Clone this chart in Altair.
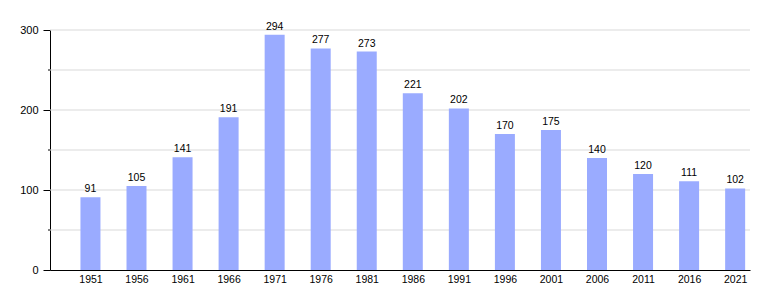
import altair as alt
import pandas as pd

years = [1951, 1956, 1961, 1966, 1971, 1976, 1981, 1986, 1991, 1996, 2001, 2006, 2011, 2016, 2021]
values = [91, 105, 141, 191, 294, 277, 273, 221, 202, 170, 175, 140, 120, 111, 102]
grid_values = [50, 100, 150, 200, 250, 300]
minor_ticks = [50, 150, 250]

df = pd.DataFrame({"year": years, "value": values})
minor = pd.DataFrame({"value": minor_ticks})
gridf = pd.DataFrame({"value": grid_values})

FONT = "Liberation Sans"

yscale = alt.Scale(domain=[0, 300], nice=False)
yaxis = alt.Axis(values=[0, 100, 200, 300], title=None, tickSize=7,
                 tickColor="black", domainColor="black", labelColor="black",
                 labelFont=FONT, labelFontSize=11, labelPadding=5, grid=False)

x = alt.X("year:Q",
          scale=alt.Scale(domain=[1947.15, 2022.07], nice=False, zero=False),
          axis=alt.Axis(values=years, format="d", title=None, ticks=False,
                        grid=False, domainColor="black", labelColor="black",
                        labelFont=FONT, labelFontSize=10.5, labelPadding=4,
                        labelFlush=False))

grid = alt.Chart(gridf).mark_rule(color="#d9d9d9", strokeWidth=1).encode(
    y=alt.Y("value:Q", scale=yscale, axis=yaxis)
)

bars = alt.Chart(df).mark_bar(size=20, color="#9aabff").encode(
    x=x, y=alt.Y("value:Q", scale=yscale, axis=yaxis)
)

labels = alt.Chart(df).mark_text(
    baseline="bottom", dy=-3, font=FONT, fontSize=10.5, color="black"
).encode(x="year:Q", y="value:Q", text="value:Q")

minor_rules = alt.Chart(minor).mark_rule(color="black").encode(
    y="value:Q", x=alt.value(-2), x2=alt.value(0)
)

chart = alt.layer(grid, bars, labels, minor_rules).properties(
    width=700, height=240,
    background="white",
    autosize=alt.AutoSizeParams(type="none"),
    padding={"left": 50, "top": 30, "right": 30, "bottom": 30},
).configure_view(stroke=None)

chart.save("out.html", embed_options={"renderer": "svg", "actions": False})
